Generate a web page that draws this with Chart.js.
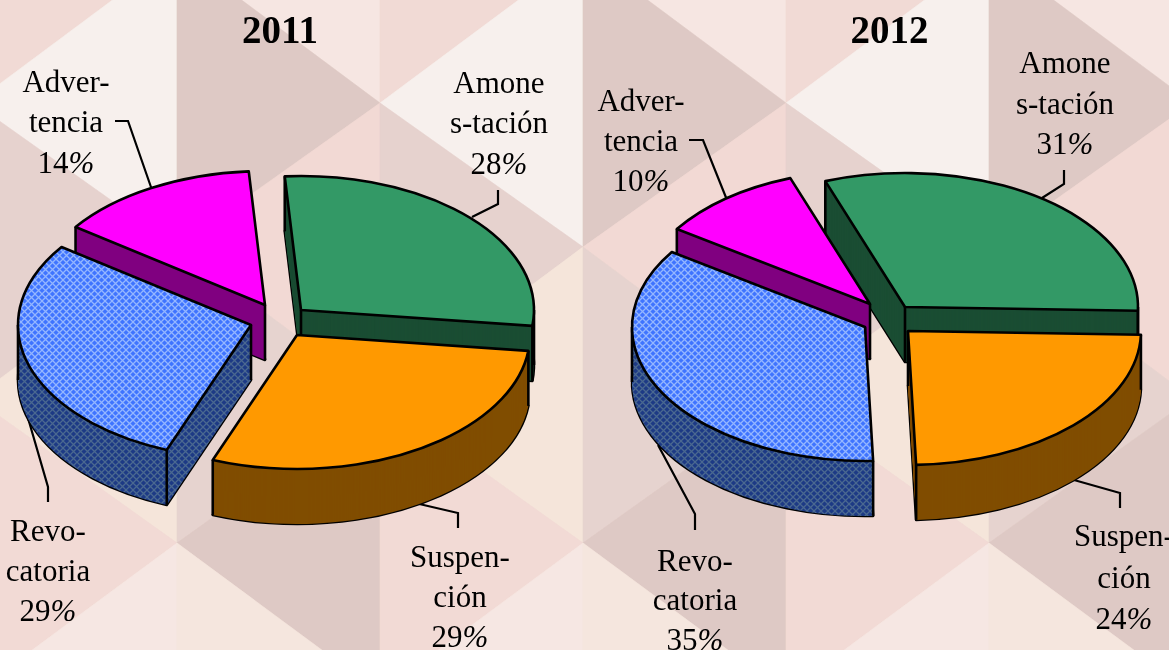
<!DOCTYPE html>
<html lang="es">
<head>
<meta charset="utf-8">
<title>Sanciones 2011 - 2012</title>
<script src="https://cdn.jsdelivr.net/npm/chart.js@4"></script>
<style>
  html, body { margin: 0; padding: 0; width: 1169px; height: 650px; overflow: hidden; background: #F2DAD5; }
  svg, canvas { position: absolute; top: 0; }
  svg { left: 0; }
  #pie2011 { left: 0; }
  #pie2012 { left: 590px; }
</style>
</head>
<body>
<svg id="backdrop" width="1169" height="650"></svg>
<canvas id="pie2011" width="560" height="650"></canvas>
<canvas id="pie2012" width="599" height="650"></canvas>
<script>
const categories = ['Amonestación', 'Suspención', 'Revocatoria', 'Advertencia'];
const labelLines = [['Amone', 's-tación'], ['Suspen-', 'ción'], ['Revo-', 'catoria'], ['Adver-', 'tencia']];
const values2011 = [28, 29, 29, 14];
const values2012 = [31, 24, 35, 10];

const topColors = ['#339966', '#FF9900', 'blue', '#FF00FF'];
const sideColors = ['#1A4D33', '#804D00', 'blueDark', '#800080'];

// 3D look: the flat pie is squashed and stacked
const tilt = 0.575;
const depth = 55;

function makeTrellis(base, line) {
    const tile = document.createElement('canvas');
    tile.width = tile.height = 7;
    const c = tile.getContext('2d');
    c.fillStyle = base;
    c.fillRect(0, 0, 7, 7);
    c.strokeStyle = line;
    c.lineWidth = 1.3;
    c.beginPath();
    c.moveTo(0, 0); c.lineTo(7, 7);
    c.moveTo(7, 0); c.lineTo(0, 7);
    c.stroke();
    return c.createPattern(tile, 'repeat');
}

const patterns = {
    blue: makeTrellis('#3F74FF', '#94B6FF'),
    blueDark: makeTrellis('#1D3A85', '#4A6890')
};
const paintOf = (name) => patterns[name] || name;

// background triangles, one strip pair repeats every 406px
function drawBackdrop() {
    const svg = document.getElementById('backdrop');
    const tri = (x0, pts, fill) => {
        const p = document.createElementNS('http://www.w3.org/2000/svg', 'polygon');
        p.setAttribute('points', pts.map(([x, y]) => (x0 + x) + ',' + y).join(' '));
        p.setAttribute('fill', fill);
        p.setAttribute('stroke', fill);
        p.setAttribute('stroke-width', '0.6');
        svg.appendChild(p);
    };
    for (let x0 = -26; x0 < 1169; x0 += 406) {
        tri(x0, [[0, -192], [203, -48], [0, 103]], '#F1DAD5');
        tri(x0, [[0, 103], [203, -48], [203, 247]], '#F7F0ED');
        tri(x0, [[0, 103], [203, 247], [0, 398]], '#E6D2CE');
        tri(x0, [[0, 398], [203, 247], [203, 543]], '#F5E5DA');
        tri(x0, [[0, 398], [203, 543], [0, 693]], '#F2DAD5');
        tri(x0, [[0, 693], [203, 543], [203, 840]], '#F6E7E3');
        tri(x0, [[203, -48], [406, -192], [406, 103]], '#F6E6E2');
        tri(x0, [[203, -48], [406, 103], [203, 247]], '#DEC9C5');
        tri(x0, [[203, 247], [406, 103], [406, 398]], '#F2D9D4');
        tri(x0, [[203, 247], [406, 398], [203, 543]], '#E6D3CF');
        tri(x0, [[203, 543], [406, 398], [406, 693]], '#DEC9C5');
        tri(x0, [[203, 543], [406, 693], [203, 840]], '#F5E6DE');
    }
}

function drawLabel(ctx, lines, percent, x, ys) {
    ctx.fillStyle = '#000';
    ctx.textBaseline = 'middle';
    ctx.textAlign = 'left';
    const upright = '31px "Liberation Serif"';
    const italic = 'italic 31px "Liberation Serif"';
    lines.forEach((text, i) => {
        ctx.font = upright;
        ctx.fillText(text, x - ctx.measureText(text).width / 2, ys[i]);
    });
    ctx.font = upright;
    const digits = String(percent);
    const w1 = ctx.measureText(digits).width;
    ctx.font = italic;
    const w2 = ctx.measureText('%').width;
    const left = x - (w1 + w2) / 2;
    ctx.font = upright;
    ctx.fillText(digits, left, ys[2]);
    ctx.font = italic;
    ctx.fillText('%', left + w1, ys[2]);
}

function pie3d(setup) {
    return {
        id: 'pie3d',
        beforeDatasetDraw(chart, args) {
            const ctx = chart.ctx;
            const arcs = args.meta.data;

            // leader lines first, the slices cover their ends
            ctx.save();
            ctx.strokeStyle = '#000';
            ctx.lineWidth = 2.2;
            setup.leaders.forEach(points => {
                ctx.beginPath();
                points.forEach(([x, y], i) => i ? ctx.lineTo(x - setup.left, y) : ctx.moveTo(x - setup.left, y));
                ctx.stroke();
            });
            ctx.restore();

            const order = arcs.map((arc, i) => i).sort((a, b) =>
                Math.sin((arcs[a].startAngle + arcs[a].endAngle) / 2) - Math.sin((arcs[b].startAngle + arcs[b].endAngle) / 2));

            order.forEach(i => {
                const arc = arcs[i];
                const originX = setup.centres[i][0] - setup.left;
                const originY = setup.centres[i][1];
                const r = arc.outerRadius;
                const opts = arc.options;

                const place = (down) => {
                    ctx.translate(originX, originY + down);
                    ctx.scale(1, tilt);
                    ctx.translate(-arc.x, -arc.y);
                };
                const paint = (down, name) => {
                    const fill = paintOf(name);
                    ctx.save();
                    place(down);
                    if (fill instanceof CanvasPattern) {
                        fill.setTransform(ctx.getTransform().inverse());
                    }
                    arc.options = Object.assign({}, opts, { backgroundColor: fill, borderWidth: 0 });
                    arc.draw(ctx);
                    arc.options = opts;
                    ctx.restore();
                };
                const outline = (down) => {
                    ctx.save();
                    place(down);
                    ctx.beginPath();
                    ctx.moveTo(arc.x, arc.y);
                    ctx.arc(arc.x, arc.y, r, arc.startAngle, arc.endAngle);
                    ctx.closePath();
                    ctx.restore();
                    ctx.stroke();
                };

                ctx.save();
                ctx.strokeStyle = '#000';
                ctx.lineWidth = 2.6;
                ctx.lineJoin = 'round';

                outline(depth);
                for (let down = depth; down >= 0; down--) {
                    paint(down, sideColors[i]);
                }

                // vertical edges: centre, both corners, and the rim where it turns
                const angles = [arc.startAngle, arc.endAngle];
                for (let k = -4; k <= 4; k++) {
                    const a = k * Math.PI;
                    if (a > arc.startAngle && a < arc.endAngle) angles.push(a);
                }
                const edge = (x, y) => {
                    ctx.beginPath();
                    ctx.moveTo(x, y);
                    ctx.lineTo(x, y + depth);
                    ctx.stroke();
                };
                edge(originX, originY);
                angles.forEach(a => edge(originX + Math.cos(a) * r, originY + Math.sin(a) * r * tilt));

                paint(0, topColors[i]);
                outline(0);
                ctx.restore();
            });

            arcs.forEach((arc, i) => {
                drawLabel(ctx, labelLines[i], setup.values[i], setup.labelX[i] - setup.left, setup.labelY[i]);
            });
            return false;
        }
    };
}

function makePie(canvasId, year, values, rotation, setup) {
    return new Chart(document.getElementById(canvasId), {
        type: 'pie',
        data: {
            labels: categories,
            datasets: [{ data: values, backgroundColor: topColors.map(paintOf), borderWidth: 0 }]
        },
        options: {
            responsive: false,
            animation: false,
            events: [],
            rotation: rotation,
            radius: 233,
            plugins: {
                legend: { display: false },
                tooltip: { enabled: false },
                title: {
                    display: true,
                    text: year,
                    color: '#000',
                    font: { family: '"Liberation Serif"', size: 39, weight: 'bold' },
                    padding: { top: 10, bottom: 6 }
                }
            }
        },
        plugins: [pie3d(Object.assign({ values }, setup))]
    });
}

drawBackdrop();

makePie('pie2011', '2011', values2011, -4, {
    left: 0,
    centres: [[301, 310], [297, 335], [251, 325], [265, 305]],
    labelX: [499, 460, 48, 66],
    labelY: [[85, 125, 166], [559, 599, 639], [533, 573, 613], [84, 124, 165]],
    leaders: [
        [[498, 190], [498, 204], [472, 217]],
        [[458, 528], [458, 513], [415, 503]],
        [[48, 502], [48, 487], [28, 418]],
        [[115, 121], [128, 121], [152, 190]]
    ]
});

makePie('pie2012', '2012', values2012, -20, {
    left: 590,
    centres: [[905, 307], [908, 331], [865, 327], [870, 304]],
    labelX: [1065, 1124, 695, 641],
    labelY: [[65, 106, 146], [538, 580, 621], [563, 602, 642], [103, 143, 183]],
    leaders: [
        [[1064, 170], [1064, 184], [1042, 198]],
        [[1120, 508], [1120, 493], [1074, 480]],
        [[695, 530], [695, 514], [658, 445]],
        [[689, 140], [703, 140], [727, 200]]
    ]
});
</script>
</body>
</html>
